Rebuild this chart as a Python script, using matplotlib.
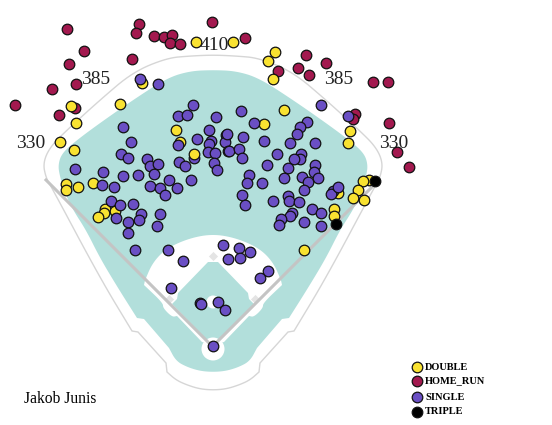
import matplotlib
matplotlib.use("Agg")
import matplotlib.pyplot as plt
from matplotlib.patches import Circle, Polygon
import numpy as np

# hit locations, picture coordinates
double_x = [196, 142, 120, 71, 76, 60, 74, 176, 180, 233, 275, 268, 273, 284, 264, 350, 348,
            66, 66, 78, 93, 105, 115, 104, 98, 304, 334, 334, 338, 369, 363, 358, 353, 364]
double_y = [42, 83, 104, 106, 123, 142, 150, 130, 142, 42, 52, 61, 79, 110, 124, 131, 143,
            184, 190, 187, 183, 209, 211, 213, 217, 250, 209, 216, 193, 180, 181, 190, 198, 200]
double_top_x = [194]
double_top_y = [154]

home_run_x = [67, 139, 136, 154, 164, 172, 170, 180, 84, 69, 132, 76, 52, 15, 59, 75,
              212, 245, 306, 326, 298, 309, 278, 373, 388, 355, 353, 389, 397, 409]
home_run_y = [29, 24, 33, 36, 37, 35, 43, 44, 51, 64, 59, 84, 89, 105, 115, 108,
              22, 38, 55, 63, 68, 75, 71, 82, 82, 114, 119, 123, 152, 167]

single_x = [140, 158, 193, 178, 187, 216, 123, 131, 197, 209, 226, 225, 178, 211, 209, 208, 215, 228,
            121, 128, 147, 150, 158, 179, 185, 194, 214, 217, 103, 123, 138, 154, 169, 191, 102, 114,
            150, 160, 177, 165, 111, 241, 254, 321, 348, 307, 300, 297, 315, 290, 264, 243, 227, 229,
            239, 242, 277, 301, 300, 294, 267, 288, 315, 314, 318, 302, 308, 284, 249, 247, 262, 304,
            333, 331, 338, 242, 245, 273, 288, 289, 299, 312, 321, 292, 290, 281, 279, 304, 321,
            75, 120, 133, 141, 139, 128, 116, 128, 160, 157, 135, 168,
            183, 171, 223, 239, 250, 228, 240, 268, 260, 200, 201, 218, 225, 213]
single_y = [79, 84, 105, 116, 115, 117, 127, 142, 139, 130, 135, 142, 145, 141, 144, 152, 153, 151,
            154, 158, 159, 166, 164, 162, 166, 158, 163, 170, 172, 176, 175, 174, 180, 180, 185, 187,
            186, 188, 188, 195, 201, 111, 123, 105, 116, 122, 127, 134, 143, 143, 141, 137, 134, 151,
            149, 158, 154, 154, 159, 159, 165, 168, 165, 172, 178, 177, 182, 178, 175, 183, 183, 190,
            191, 194, 187, 195, 205, 201, 196, 201, 202, 209, 213, 213, 216, 219, 225, 222, 226,
            169, 205, 204, 214, 220, 222, 218, 233, 214, 226, 250, 250,
            261, 288, 245, 248, 252, 259, 258, 271, 278, 303, 304, 302, 310, 346]

triple_x = [336, 375]
triple_y = [224, 181]

legend_labels = ["DOUBLE", "HOME_RUN", "SINGLE", "TRIPLE"]
legend_colors = ["#f9e231", "#a3194f", "#6a4fc4", "#000000"]
legend_y = [367, 381, 397, 412]

fence_labels = ["410", "385", "385", "330", "330"]
fence_x = [214, 96, 339, 31, 394]
fence_y = [45, 79, 79, 144, 144]

# left half of the park outlines, mirrored about the plate, doubled anchors keep a corner
CENTER = 213
grass_x = [213, 190, 167, 133, 100, 77, 62, 58, 60, 65, 73, 86, 100, 118, 137, 137, 144, 144, 169, 169, 176, 187, 200, 213]
grass_y = [70, 71, 78, 100, 123, 140, 153, 165, 177, 193, 210, 230, 258, 288, 318, 318, 319, 319, 348, 348, 361, 367, 371, 372]
wall_x = [213, 190, 167, 133, 100, 67, 50, 43, 46, 52, 100, 132, 132, 138, 138, 166, 166, 167, 167, 176, 187, 200, 213]
wall_y = [55, 56, 58, 72, 100, 130, 147, 163, 178, 188, 278, 331, 331, 332, 332, 363, 363, 372, 372, 380, 385, 389, 390]
dirt_x = [213, 190, 167, 153, 145, 144, 144, 163, 163, 172, 177, 177, 202, 202, 213]
dirt_y = [234, 238, 248, 262, 280, 285, 285, 303, 308, 317, 316, 316, 342, 342, 345]
diamond_x = [213, 208, 178, 177, 172, 207, 213]
diamond_y = [262, 262, 293, 299, 304, 340, 340]
base_x = [213, 169, 255]
base_y = [256, 299, 299]


def mirrored(xs, ys):
    xs = np.array(xs, dtype=float)
    ys = np.array(ys, dtype=float)
    return np.r_[xs, 2 * CENTER - xs[-2:0:-1]], np.r_[ys, ys[-2:0:-1]]


def smooth_outline(xs, ys, rounds=3):
    # chaikin corner cutting on the closed outline
    xs, ys = mirrored(xs, ys)
    pts = np.column_stack([xs, ys])
    for _ in range(rounds):
        nxt = np.roll(pts, -1, axis=0)
        a = 0.75 * pts + 0.25 * nxt
        b = 0.25 * pts + 0.75 * nxt
        pts = np.column_stack([a, b]).reshape(-1, 2)
    return pts


plt.rcParams["font.family"] = ["Liberation Serif", "DejaVu Serif"]

fig = plt.figure(figsize=(5.52, 4.25), dpi=100)
ax = fig.add_axes([0, 0, 1, 1])
ax.set_xlim(0, 552)
ax.set_ylim(425, 0)
ax.axis("off")

GRASS = "#b2dfdb"
ax.add_patch(Polygon(smooth_outline(wall_x, wall_y), fc="white", ec="#d6d6d6", lw=1, zorder=1))
ax.add_patch(Polygon(smooth_outline(grass_x, grass_y), fc=GRASS, ec="none", zorder=2))
ax.add_patch(Polygon(smooth_outline(dirt_x, dirt_y), fc="white", ec="none", zorder=3))
dx, dy = mirrored(diamond_x, diamond_y)
ax.add_patch(Polygon(np.column_stack([dx, dy]), fc=GRASS, ec="none", zorder=4))
ax.add_patch(Circle((CENTER, 302), 6.5, fc="white", ec="none", zorder=5))
ax.add_patch(Circle((CENTER, 349), 11.5, fc="white", ec="none", zorder=5))
ax.scatter(base_x, base_y, s=22, marker="D", c="#e4e4e4", linewidths=0, zorder=5)
ax.plot([46, 208], [180, 342], color="#c4c4c4", lw=2.2, zorder=6)
ax.plot([375, 217], [184, 342], color="#c4c4c4", lw=2.2, zorder=6)

size = 58
edge = dict(edgecolors="#111111", linewidths=0.9)
ax.scatter(home_run_x, home_run_y, s=size, c=legend_colors[1], zorder=7, **edge)
ax.scatter(double_x, double_y, s=size, c=legend_colors[0], zorder=8, **edge)
ax.scatter(single_x, single_y, s=size, c=legend_colors[2], zorder=9, **edge)
ax.scatter(double_top_x, double_top_y, s=size, c=legend_colors[0], zorder=10, **edge)
ax.scatter(triple_x, triple_y, s=size, c=legend_colors[3], zorder=10, **edge)

for label, x, y in zip(fence_labels, fence_x, fence_y):
    ax.text(x, y, label, fontsize=14, color="#222222", ha="center", va="center", zorder=6)

for label, color, y in zip(legend_labels, legend_colors, legend_y):
    ax.scatter([417], [y], s=size, c=color, zorder=10, **edge)
    ax.text(425, y, label, fontsize=7.5, fontweight="bold", color="black", ha="left", va="center")

ax.text(24, 399, "Jakob Junis", fontsize=11.2, color="black", ha="left", va="center")

fig.savefig("out.png", dpi=100)
plt.close(fig)
